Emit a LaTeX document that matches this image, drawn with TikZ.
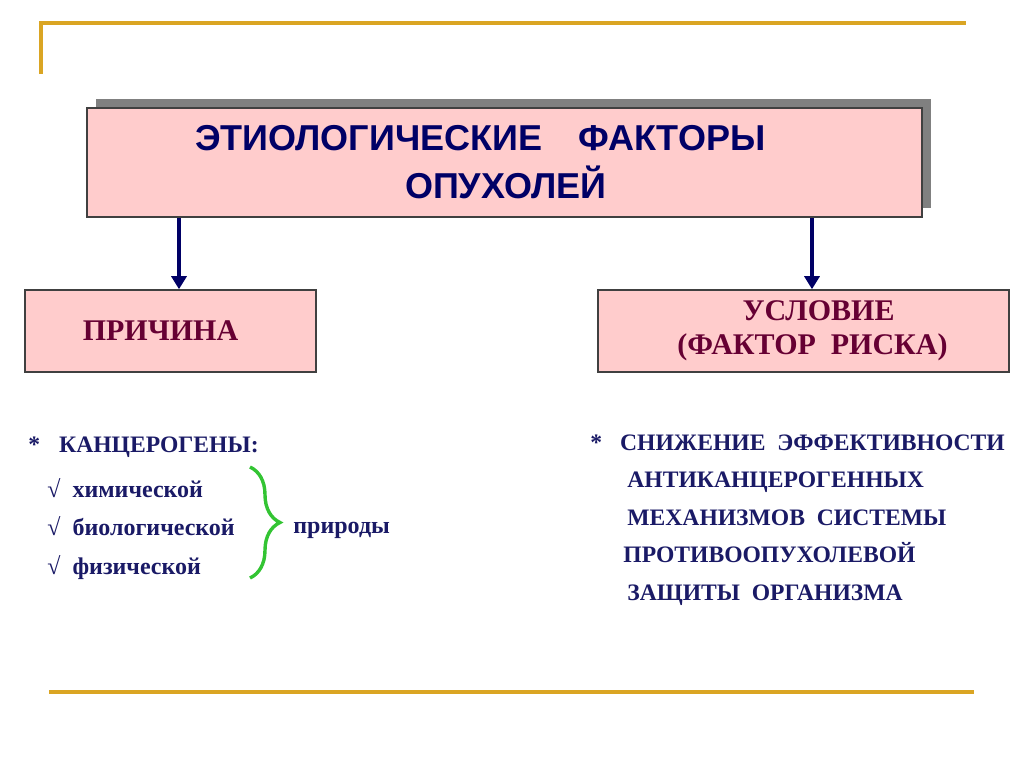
\documentclass[tikz,border=0pt]{standalone}
\usepackage{fontspec}
\setmainfont{Liberation Serif}
\newfontfamily\headfont{Liberation Sans}
\usepackage{tikz}
\usetikzlibrary{
  arrows.meta,
  positioning,
  shadows,
  decorations.pathreplacing
}
\definecolor{etGold}{HTML}{DAA523}
\definecolor{etPink}{HTML}{FFCCCC}
\definecolor{etNavy}{HTML}{000066}
\definecolor{etWine}{HTML}{660033}
\definecolor{etInk}{HTML}{1A1A66}
\definecolor{etGreen}{HTML}{33C433}
\definecolor{etShade}{HTML}{808080}
\tikzset{
  etbox/.style={
    draw=black!75, fill=etPink, line width=0.8pt, minimum height=41pt,
    font=\fontsize{15}{17}\selectfont\bfseries, text=etWine, align=center
  },
  headbox/.style={
    etbox, line width=1pt, minimum width=417.5pt, minimum height=54.5pt,
    text width=309.5pt, inner xsep=54pt, align=left, text=etNavy,
    font=\headfont\fontsize{18}{24}\selectfont\bfseries,
    general shadow={fill=etShade, shadow xshift=4.5pt, shadow yshift=4.5pt}
  },
  flow/.style={-{Triangle[length=6.5pt, width=7.5pt]}, line width=2pt, etNavy},
  goldline/.style={etGold, line width=1.6pt},
  listtext/.style={anchor=base west, inner sep=0pt, text=etInk, align=left,
    font=\fontsize{11.8}{18.75}\selectfont\bfseries},
  itemtext/.style={listtext, font=\fontsize{12}{15}\selectfont\bfseries},
  brace/.style={decorate, decoration={brace, amplitude=15pt}, etGreen, line width=1.7pt}
}

\begin{document}
\begin{tikzpicture}[x=0.5pt, y=-0.5pt]
  \useasboundingbox (0,0) rectangle (1024,767);
  \coordinate (topleft) at (41,23);
  \coordinate (topright) at (966,23);
  \coordinate (topdown) at (41,74);
  \coordinate (botleft) at (49,692);
  \coordinate (botright) at (974,692);
  \draw[goldline] (topdown) -- (topleft) -- (topright);
  \draw[goldline] (botleft) -- (botright);

  \node[headbox] (etiol) at (504.5,162.5) {ЭТИОЛОГИЧЕСКИЕ\ \ \ ФАКТОРЫ\\\hspace*{105pt}ОПУХОЛЕЙ};
  \node[etbox, minimum width=145.5pt] (cause) at (170.5,331) {\hspace*{-10pt}ПРИЧИНА};
  \node[etbox, minimum width=205.5pt] (cond) at (803.5,331) {\hspace*{15pt}УСЛОВИЕ\\\hspace*{9pt}(ФАКТОР\ \ РИСКА)};

  \draw[flow] ([xshift=4.25pt]cause.north |- etiol.south) -- ([xshift=4.25pt]cause.north);
  \draw[flow] ([xshift=4.25pt]cond.north |- etiol.south) -- ([xshift=4.25pt]cond.north);

  \node[listtext] (carc) at (28,452) {*\hspace{9.5pt}КАНЦЕРОГЕНЫ:};
  \node[itemtext] (chem) at (47,497) {√\hspace{6pt}химической};
  \node[itemtext] (bio) at (47,535) {√\hspace{6pt}биологической};
  \node[itemtext] (phys) at (47,574) {√\hspace{6pt}физической};
  \coordinate (bracetop) at (250,467);
  \coordinate (bracebot) at (250,578);
  \draw[brace] (bracetop) -- (bracebot);
  \node[itemtext] (nature) at (293,533) {природы};

  \node[listtext] (defence) at (590,600) {*\hspace{9pt}СНИЖЕНИЕ\ \ ЭФФЕКТИВНОСТИ\\
    \hspace*{18.5pt}АНТИКАНЦЕРОГЕННЫХ\\
    \hspace*{18.5pt}МЕХАНИЗМОВ\ \ СИСТЕМЫ\\
    \hspace*{16.5pt}ПРОТИВООПУХОЛЕВОЙ\\
    \hspace*{18.5pt}ЗАЩИТЫ\ \ ОРГАНИЗМА};
\end{tikzpicture}
\end{document}
